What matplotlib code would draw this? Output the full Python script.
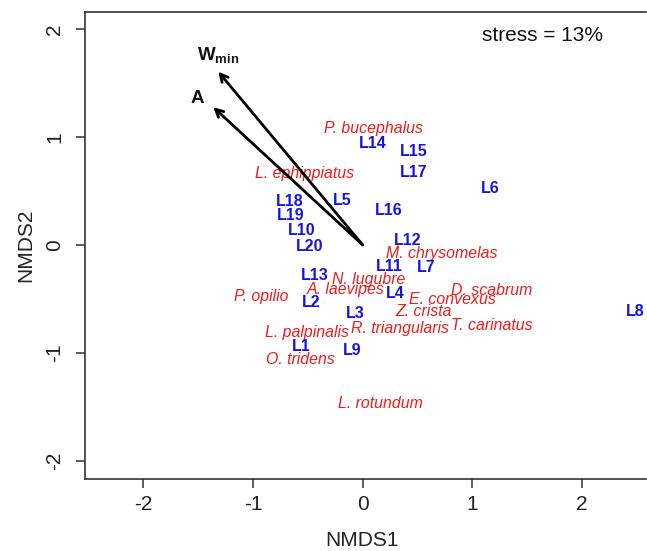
import matplotlib
matplotlib.use("Agg")
import matplotlib.pyplot as plt

plt.rcParams['font.family'] = ['Liberation Sans', 'DejaVu Sans']
plt.rcParams['mathtext.fontset'] = 'custom'
plt.rcParams['mathtext.rm'] = 'Liberation Sans'
plt.rcParams['mathtext.bf'] = 'Liberation Sans:bold'

# Site scores
site_labels = ["L1", "L2", "L3", "L4", "L5", "L6", "L7", "L8", "L9", "L10",
               "L11", "L12", "L13", "L14", "L15", "L16", "L17", "L18", "L19", "L20"]
site_x = [-0.556, -0.471, -0.070, 0.301, -0.186, 1.160, 0.577, 2.481, -0.100, -0.556,
          0.240, 0.410, -0.435, 0.091, 0.461, 0.237, 0.461, -0.669, -0.658, -0.480]
site_y = [-0.943, -0.529, -0.633, -0.454, 0.408, 0.526, -0.210, -0.618, -0.983, 0.130,
          -0.201, 0.040, -0.287, 0.939, 0.865, 0.322, 0.674, 0.403, 0.274, -0.016]

# Species scores
species_labels = ["P. bucephalus", "L. ephippiatus", "M. chrysomelas", "N. lugubre",
                  "A. laevipes", "P. opilio", "D. scabrum", "E. convexus", "Z. crista",
                  "L. palpinalis", "R. triangularis", "T. carinatus", "O. tridens",
                  "L. rotundum"]
species_x = [0.097, -0.526, 0.720, 0.051, -0.152, -0.920, 1.175, 0.820, 0.559,
             -0.505, 0.340, 1.175, -0.571, 0.158]
species_y = [1.076, 0.665, -0.077, -0.318, -0.417, -0.482, -0.424, -0.503, -0.618,
             -0.809, -0.772, -0.751, -1.066, -1.474]

# Environmental vectors
vec_labels = [r"$\mathbf{W}_{\mathbf{min}}$", r"$\mathbf{A}$"]
vec_x = [-1.316, -1.361]
vec_y = [1.607, 1.277]
vec_label_x = [-1.317, -1.505]
vec_label_y = [1.706, 1.360]
vec_label_va = ["baseline", "center"]

x_ticks = [-2, -1, 0, 1, 2]
y_ticks = [-2, -1, 0, 1, 2]
stress_text = "stress = 13%"

W, H = 647, 551
fig = plt.figure(figsize=(W / 100, H / 100), dpi=100)
ax = fig.add_axes([85 / W, (H - 479) / H, (646 - 85) / W, (479 - 12) / H])
ax.set_xlim(-2.53, 2.581)
ax.set_ylim(-2.17, 2.16)

for sp in ['left', 'top', 'bottom']:
    ax.spines[sp].set_color('#333333')
    ax.spines[sp].set_linewidth(1.2)
ax.spines['right'].set_visible(False)

ax.set_xticks(x_ticks)
ax.set_yticks(y_ticks)
ax.set_xticklabels([str(t) for t in x_ticks])
ax.set_yticklabels([str(t) for t in y_ticks], rotation=90, va='center')
ax.tick_params(axis='both', direction='out', length=6.5, width=1.1, color='#333333',
               labelsize=15, labelcolor='#222222')
ax.tick_params(axis='x', pad=5)
ax.tick_params(axis='y', pad=8.5)

for lab, x, y in zip(species_labels, species_x, species_y):
    ax.text(x, y, lab, color='#ee1c1c', fontsize=11.4, style='italic',
            ha='center', va='center')

for lab, x, y in zip(site_labels, site_x, site_y):
    ax.text(x, y, lab, color='#1414e6', fontsize=11.5, fontweight='bold',
            ha='center', va='center')

for vx, vy in zip(vec_x, vec_y):
    ax.annotate('', xy=(vx, vy), xytext=(0, 0),
                arrowprops=dict(arrowstyle='->,head_length=0.55,head_width=0.28',
                                lw=2.0, color='black', shrinkA=0, shrinkB=0))

for lab, x, y, va in zip(vec_labels, vec_label_x, vec_label_y, vec_label_va):
    ax.text(x, y, lab, fontsize=13.5, color='#111111', ha='center', va=va)

ax.text(2.19, 1.938, stress_text, fontsize=15, color='#111111', ha='right', va='center')

fig.text(362 / W, 1 - 541 / H, "NMDS1", fontsize=15, color='#222222', ha='center', va='center')
fig.text(26 / W, 1 - 245 / H, "NMDS2", fontsize=15, color='#222222', ha='center', va='center',
         rotation=90)

fig.savefig("out.png", dpi=100)
